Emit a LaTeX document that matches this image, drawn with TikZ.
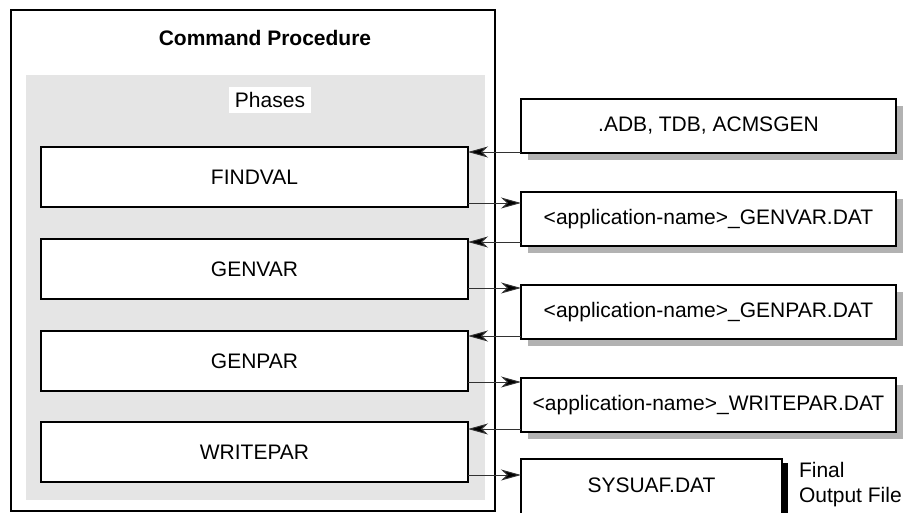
\documentclass[tikz,border=0pt]{standalone}
\usepackage{fontspec}
\setmainfont{Liberation Sans}
\usetikzlibrary{arrows.meta,shadows}
\definecolor{phasegray}{RGB}{229,229,229}
\definecolor{shadowgray}{RGB}{178,178,178}
\definecolor{linegray}{RGB}{50,50,50}
\begin{document}
\begin{tikzpicture}[x=1pt,y=-1pt,
  every node/.style={font=\fontsize{21}{25}\selectfont, inner sep=0pt, outer sep=0pt},
  phasebox/.style={draw, line width=2pt, fill=white, minimum width=427pt, minimum height=60pt, anchor=north west},
  filebox/.style={draw, line width=2pt, fill=white, minimum width=375pt, minimum height=54pt, anchor=north west,
    drop shadow={shadow xshift=7pt, shadow yshift=-7pt, fill=shadowgray, opacity=1}},
  arr/.style={line width=1pt, draw=linegray, -{Stealth[length=20pt,width=11pt,inset=6pt,fill=black]}}]
\useasboundingbox (0,0) rectangle (905,512);
% outer container
\node[draw, line width=2pt, minimum width=484pt, minimum height=501pt, anchor=north west] (cmd) at (11,10) {};
\node[font=\fontsize{21}{25}\selectfont\bfseries] (title) at (265,38) {Command Procedure};
\node[fill=phasegray, minimum width=459pt, minimum height=425pt, anchor=north west] (phases) at (26,75) {};
\node[fill=white, minimum width=82pt, minimum height=26pt] (phaselabel) at (270,100) {Phases};
% phase boxes
\node[phasebox] (findval) at (41,147) {FINDVAL};
\node[phasebox] (genvar) at (41,239) {GENVAR};
\node[phasebox] (genpar) at (41,331) {GENPAR};
\node[phasebox] (writepar) at (41,422) {WRITEPAR};
% file boxes
\node[filebox] (adb) at (521,99) {.ADB, TDB, ACMSGEN};
\node[filebox] (gvdat) at (521,192) {<application-name>\_GENVAR.DAT};
\node[filebox] (gpdat) at (521,285) {<application-name>\_GENPAR.DAT};
\node[filebox] (wpdat) at (521,378) {<application-name>\_WRITEPAR.DAT};
\node[draw, line width=2pt, fill=white, minimum width=261pt, minimum height=58pt, anchor=north west,
  drop shadow={shadow xshift=6pt, shadow yshift=-4pt, fill=black, opacity=1},
  label={[yshift=3pt]center:SYSUAF.DAT}] (sysuaf) at (521,459) {};
\node[align=left, anchor=north west] (final) at (799,462) {Final\\Output File};
% connectors
\draw[arr] ([yshift=1pt]adb.south west) -- ([yshift=1pt]adb.south west -| findval.east);
\draw[arr] ([yshift=4pt]findval.south east) -- ([yshift=4pt]findval.south east -| gvdat.west);
\draw[arr] ([yshift=4pt]gvdat.south west) -- ([yshift=4pt]gvdat.south west -| genvar.east);
\draw[arr] ([yshift=11pt]genvar.south east) -- ([yshift=11pt]genvar.south east -| gpdat.west);
\draw[arr] ([yshift=3pt]gpdat.south west) -- ([yshift=3pt]gpdat.south west -| genpar.east);
\draw[arr] ([yshift=9pt]genpar.south east) -- ([yshift=9pt]genpar.south east -| wpdat.west);
\draw[arr] ([yshift=3pt]wpdat.south west) -- ([yshift=3pt]wpdat.south west -| writepar.east);
\draw[arr] ([yshift=7pt]writepar.south east) -- ([yshift=7pt]writepar.south east -| sysuaf.west);
\end{tikzpicture}
\end{document}
